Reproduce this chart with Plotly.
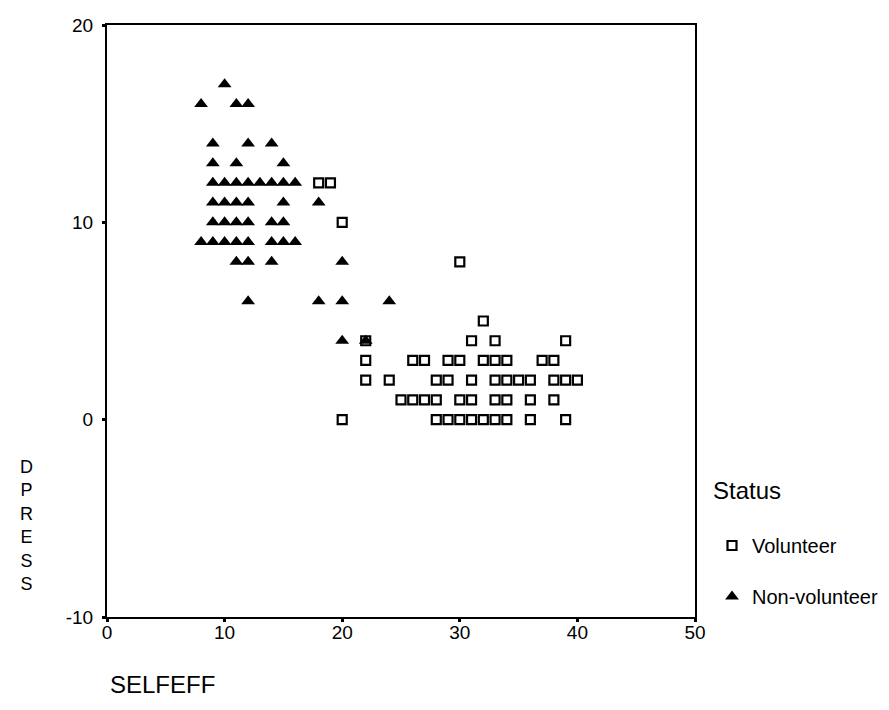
import plotly.graph_objects as go

# Volunteer (open squares)
vol_selfeff = [18, 19, 20, 30, 32,
               22, 31, 33, 39,
               22, 26, 27, 29, 30, 32, 33, 34, 37, 38,
               22, 24, 28, 29, 31, 33, 34, 35, 36, 38, 39, 40,
               25, 26, 27, 28, 30, 31, 33, 34, 36, 38,
               20, 28, 29, 30, 31, 32, 33, 34, 36, 39]
vol_dpress = [12, 12, 10, 8, 5,
              4, 4, 4, 4,
              3, 3, 3, 3, 3, 3, 3, 3, 3, 3,
              2, 2, 2, 2, 2, 2, 2, 2, 2, 2, 2, 2,
              1, 1, 1, 1, 1, 1, 1, 1, 1, 1,
              0, 0, 0, 0, 0, 0, 0, 0, 0, 0]

# Non-volunteer (filled triangles)
non_selfeff = [10,
               8, 11, 12,
               9, 12, 14,
               9, 11, 15,
               9, 10, 11, 12, 13, 14, 15, 16,
               9, 10, 11, 12, 15, 18,
               9, 10, 11, 12, 14, 15,
               8, 9, 10, 11, 12, 14, 15, 16,
               11, 12, 14, 20,
               12, 18, 20, 24,
               20, 22]
non_dpress = [17,
              16, 16, 16,
              14, 14, 14,
              13, 13, 13,
              12, 12, 12, 12, 12, 12, 12, 12,
              11, 11, 11, 11, 11, 11,
              10, 10, 10, 10, 10, 10,
              9, 9, 9, 9, 9, 9, 9, 9,
              8, 8, 8, 8,
              6, 6, 6, 6,
              4, 4]

x_ticks = [0, 10, 20, 30, 40, 50]
y_ticks = [-10, 0, 10, 20]
x_title = "SELFEFF"
y_title = "DPRESS"
legend_title = "Status"

FONT = "Liberation Sans, Arial, sans-serif"

# page body has an 8px margin; figure is sized so the plot lands where the reference has it
OFF = 8
W, H = 889 - OFF, 710 - OFF
L, T = 107 - OFF, 25 - OFF
R = W - (695 - OFF)
B = H - (617 - OFF)
PW, PH = W - L - R, H - T - B


def px_x(p):
    return (p - OFF - L) / PW


def px_y(p):
    return (H - B - (p - OFF)) / PH


fig = go.Figure()
fig.add_trace(go.Scatter(
    x=vol_selfeff, y=vol_dpress, mode="markers", name="Volunteer",
    legendgroup="v",
    marker=dict(symbol="square-open", size=9, color="black",
                line=dict(width=2.2, color="black")),
))
fig.add_trace(go.Scatter(
    x=non_selfeff, y=non_dpress, mode="markers", name="Non-volunteer",
    legendgroup="n",
    marker=dict(symbol="triangle-up", size=12, color="black",
                line=dict(width=0)),
))

axis_common = dict(showline=True, linecolor="black", linewidth=2, mirror=True,
                   showgrid=False, zeroline=False, ticks="outside", ticklen=3,
                   tickwidth=3, tickcolor="black",
                   tickfont=dict(family=FONT, size=19, color="black"))

fig.update_layout(
    width=W, height=H,
    margin=dict(l=L, r=R, t=T, b=B, autoexpand=False),
    paper_bgcolor="white", plot_bgcolor="white",
    font=dict(family=FONT, color="black"),
    xaxis=dict(range=[0, 50], tickvals=x_ticks, ticktext=[str(v) for v in x_ticks],
               ticklabelstandoff=-6, **axis_common),
    yaxis=dict(range=[-10, 20], tickvals=y_ticks, ticktext=[str(v) for v in y_ticks],
               ticklabelstandoff=5, **axis_common),
    showlegend=True,
    legend=dict(x=px_x(712), y=px_y(526), xanchor="left", yanchor="top",
                font=dict(family=FONT, size=20, color="black"),
                tracegroupgap=22, bgcolor="rgba(0,0,0,0)"),
    annotations=[
        dict(text=x_title, xref="paper", yref="paper", x=px_x(108),
             y=px_y(684), xanchor="left", yanchor="middle",
             showarrow=False, font=dict(family=FONT, size=24, color="black")),
        dict(text="<br>".join(list(y_title)), xref="paper", yref="paper",
             x=px_x(26), y=px_y(525), xanchor="center",
             yanchor="middle", showarrow=False, align="center",
             font=dict(family=FONT, size=18, color="black")),
        dict(text=legend_title, xref="paper", yref="paper", x=px_x(711),
             y=px_y(490), xanchor="left", yanchor="middle",
             showarrow=False, font=dict(family=FONT, size=24, color="black")),
    ],
)

fig.write_html("out.html")
